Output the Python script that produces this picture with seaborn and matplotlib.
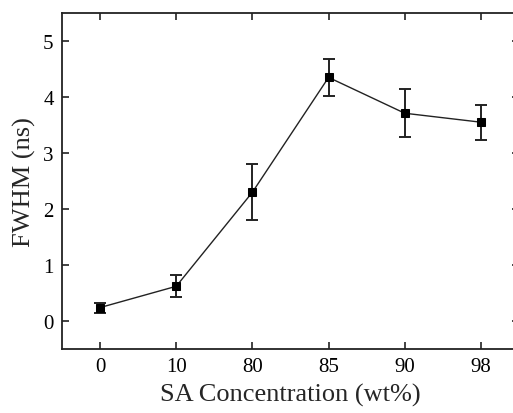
import matplotlib
matplotlib.use("Agg")
import matplotlib.pyplot as plt
import seaborn as sns
import numpy as np
import pandas as pd

categories = ["0", "10", "80", "85", "90", "98"]
fwhm = [0.24, 0.62, 2.30, 4.35, 3.71, 3.55]
fwhm_err = [0.09, 0.20, 0.50, 0.33, 0.43, 0.31]

sns.set_style("ticks")
plt.rcParams['font.family'] = ['Liberation Serif', 'DejaVu Serif']
plt.rcParams['mathtext.fontset'] = 'stix'

df = pd.DataFrame({"pos": np.arange(len(categories)), "fwhm": fwhm, "err": fwhm_err})

fig = plt.figure(figsize=(5.13, 4.14), dpi=100)
ax = fig.add_axes([62/513, 1 - 350/414, (519-62)/513, (350-14)/414])

ax.errorbar(df["pos"], df["fwhm"], yerr=df["err"], fmt='none', ecolor='#222222',
            elinewidth=1.4, capsize=4.5, capthick=1.4, zorder=2)
sns.lineplot(data=df, x="pos", y="fwhm", ax=ax, color='#222222', linewidth=1.0,
             marker='s', markersize=5.5, markerfacecolor='black', markeredgecolor='black',
             zorder=3)

ax.set_xlim(-0.5, 5.5)
ax.set_ylim(-0.5, 5.5)
ax.set_xticks(df["pos"])
ax.set_xticklabels(categories)
ax.set_yticks([0, 1, 2, 3, 4, 5])
ax.tick_params(direction='in', top=True, right=True, length=5, width=1.2,
               labelsize=15, pad=6, colors='#222222', labelcolor='black')
for s in ax.spines.values():
    s.set_visible(True)
    s.set_linewidth(1.3)
    s.set_color('#222222')

ax.set_xlabel("SA Concentration (wt%)", fontsize=19, labelpad=5)
ax.set_ylabel("FWHM (ns)", fontsize=19, labelpad=5)

fig.savefig("out.png", dpi=100)
